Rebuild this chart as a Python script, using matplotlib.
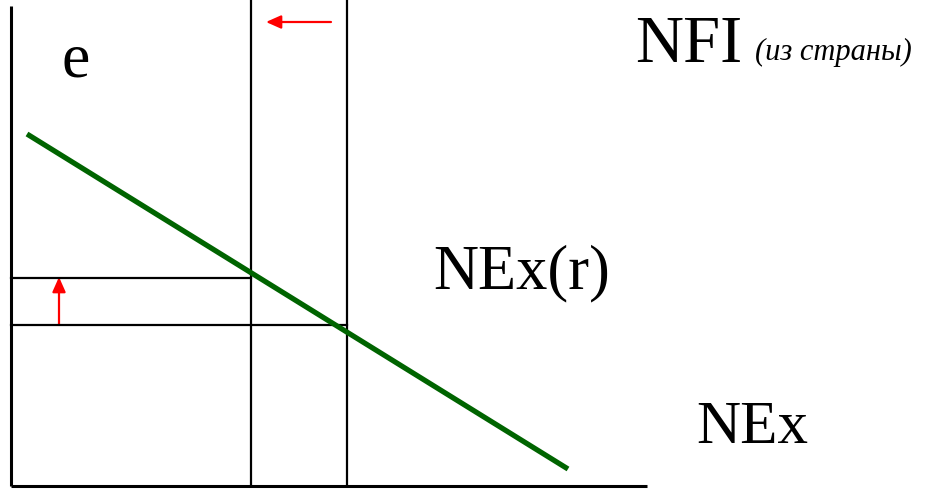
import matplotlib.pyplot as plt
from matplotlib.patches import FancyArrowPatch

plt.rcParams['font.family'] = ['Liberation Serif', 'DejaVu Serif']

# схема в пиксельных координатах картинки (y вниз)
ось_x = [11, 647]
ось_y = [6, 486]
e_уровни = [278, 325]          # новый и старый курс
nfi_x = [250.5, 347]           # новое и старое NFI
nex_x = [27, 568]
nex_y = [134, 469]
стрелка_nfi = [(331, 22), (266, 22)]
стрелка_e = [(59, 325), (59, 277)]

fig = plt.figure(figsize=(9.32, 4.91), dpi=100)
ax = fig.add_axes([0, 0, 1, 1])
ax.set_xlim(0, 932)
ax.set_ylim(491, 0)
ax.axis('off')

# оси
ax.plot([ось_x[0], ось_x[0]], [ось_y[0], ось_y[1]], color='black', lw=2.2, solid_capstyle='butt')
ax.plot([ось_x[0], ось_x[1]], [ось_y[1], ось_y[1]], color='black', lw=2.2, solid_capstyle='butt')

# вертикальные линии NFI
for x in nfi_x:
    ax.plot([x, x], [0, ось_y[1]], color='black', lw=1.6)

# горизонтальные уровни курса
ax.plot([ось_x[0], nfi_x[0]], [e_уровни[0], e_уровни[0]], color='black', lw=1.6)
ax.plot([ось_x[0], nfi_x[1]], [e_уровни[1], e_уровни[1]], color='black', lw=1.6)

# кривая NEx
ax.plot(nex_x, nex_y, color='#006400', lw=3.8, solid_capstyle='butt')

# красные стрелки
for (x0, y0), (x1, y1) in [стрелка_nfi, стрелка_e]:
    ax.add_patch(FancyArrowPatch((x0, y0), (x1, y1), arrowstyle='-|>,head_length=9,head_width=4',
                                 color='red', lw=1.6, mutation_scale=1, shrinkA=0, shrinkB=0))

# подписи
ax.text(61, 76, 'e', fontsize=46, va='baseline', ha='left')
ax.text(635, 62, 'NFI', fontsize=48, va='baseline', ha='left')
ax.text(755, 60, '(из страны)', fontsize=22, style='italic', va='baseline', ha='left')
ax.text(433, 288, 'NEx(r)', fontsize=45, va='baseline', ha='left')
ax.text(696, 443, 'NEx', fontsize=44, va='baseline', ha='left')

fig.savefig('out.png', dpi=100)
